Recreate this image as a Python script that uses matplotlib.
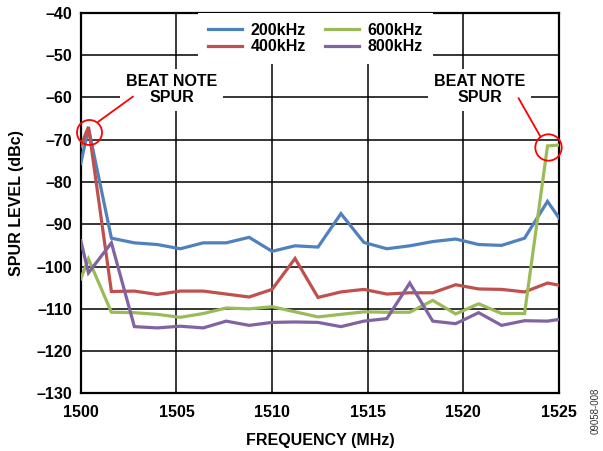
import matplotlib
matplotlib.use("Agg")
import matplotlib.pyplot as plt

plt.rcParams['font.family'] = ['Liberation Sans', 'DejaVu Sans']

freq = [1500.0, 1500.4, 1501.6, 1502.8, 1504.0, 1505.2, 1506.4, 1507.6, 1508.8,
        1510.0, 1511.2, 1512.4, 1513.6, 1514.8, 1516.0, 1517.2, 1518.4, 1519.6,
        1520.8, 1522.0, 1523.2, 1524.4, 1525.0]

spur_200k = [-75.6, -67.3, -93.3, -94.4, -94.8, -95.8, -94.4, -94.4, -93.1,
             -96.4, -95.1, -95.4, -87.5, -94.3, -95.8, -95.1, -94.1, -93.5,
             -94.8, -95.0, -93.3, -84.6, -88.5]
spur_400k = [-71.5, -67.0, -105.9, -105.8, -106.6, -105.8, -105.8, -106.5, -107.2,
             -105.4, -98.1, -107.3, -106.0, -105.4, -106.5, -106.2, -106.2, -104.3,
             -105.3, -105.4, -106.0, -103.9, -104.4]
spur_600k = [-102.9, -98.2, -110.8, -110.9, -111.3, -112.0, -111.1, -109.8, -110.0,
             -109.5, -110.7, -111.9, -111.3, -110.7, -110.8, -110.8, -108.0, -111.2,
             -108.8, -111.1, -111.1, -71.5, -71.3]
spur_800k = [-93.9, -101.5, -94.4, -114.2, -114.5, -114.1, -114.5, -112.9, -113.9,
             -113.2, -113.1, -113.2, -114.2, -112.9, -112.3, -103.9, -112.9, -113.5,
             -110.9, -113.9, -112.8, -112.9, -112.5]

series_labels = ['200kHz', '400kHz', '600kHz', '800kHz']
series_colors = ['#4F81BD', '#C0504D', '#9BBB59', '#8064A2']

x_ticks = [1500, 1505, 1510, 1515, 1520, 1525]
y_ticks = [-40, -50, -60, -70, -80, -90, -100, -110, -120, -130]

fs = 11.5

fig = plt.figure(figsize=(6.03, 4.51), dpi=100)
ax = fig.add_axes([0.134, 0.1275, 0.793, 0.8445])

for vals, lab, col in zip([spur_200k, spur_400k, spur_600k, spur_800k],
                          series_labels, series_colors):
    ax.plot(freq, vals, color=col, lw=2.3, label=lab, solid_joinstyle='miter', zorder=3)

ax.set_xlim(1500, 1525)
ax.set_ylim(-130, -40)
ax.set_xticks(x_ticks)
ax.set_yticks(y_ticks)
ax.set_xticklabels([str(t) for t in x_ticks], fontsize=fs, fontweight='bold')
ax.set_yticklabels([str(t).replace('-', '\u2013') for t in y_ticks], fontsize=fs, fontweight='bold')
ax.tick_params(axis='x', length=0, pad=8)
ax.tick_params(axis='y', length=0, pad=6)
ax.grid(True, color='black', lw=1.1, zorder=1)
ax.set_axisbelow(True)
for s in ax.spines.values():
    s.set_linewidth(1.6)
    s.set_color('black')

ax.set_xlabel('FREQUENCY (MHz)', fontsize=fs, fontweight='bold', labelpad=10)
ax.set_ylabel('SPUR LEVEL (dBc)', fontsize=fs, fontweight='bold', labelpad=9)

handles, labels = ax.get_legend_handles_labels()
leg = ax.legend(handles, labels, ncol=2, loc='upper center', bbox_to_anchor=(0.491, 1.0),
                frameon=True, fancybox=False, edgecolor='white', facecolor='white',
                framealpha=1.0, prop={'weight': 'bold', 'size': 11.5},
                handlelength=2.1, handletextpad=0.55, columnspacing=1.2,
                labelspacing=0.12, borderpad=0.62, borderaxespad=0.0)
leg.get_frame().set_linewidth(0)
leg.set_zorder(5)

bbox = dict(boxstyle='square,pad=0.35', fc='white', ec='none')
ax.text(1504.75, -58.2, 'BEAT NOTE\nSPUR', ha='center', va='center', fontsize=fs,
        fontweight='bold', linespacing=1.05, bbox=bbox, zorder=4)
ax.text(1520.85, -58.2, 'BEAT NOTE\nSPUR', ha='center', va='center', fontsize=fs,
        fontweight='bold', linespacing=1.05, bbox=bbox, zorder=4)

ax.plot([1500.45], [-68.1], marker='o', ms=18, mfc='none', mec='#FF0000', mew=1.3,
        clip_on=False, zorder=6)
ax.plot([1524.4], [-71.65], marker='o', ms=19, mfc='none', mec='#FF0000', mew=1.3,
        clip_on=False, zorder=6)
ax.plot([1500.92, 1502.72], [-65.75, -59.86], color='#FF0000', lw=1.3, zorder=6)
ax.plot([1522.89, 1524.03], [-60.24, -69.3], color='#FF0000', lw=1.3, zorder=6)

fig.text(0.988, 0.09, '09058-008', rotation=90, fontsize=7, ha='center', va='center',
         color='#333333')

fig.savefig('out.png', dpi=100)
